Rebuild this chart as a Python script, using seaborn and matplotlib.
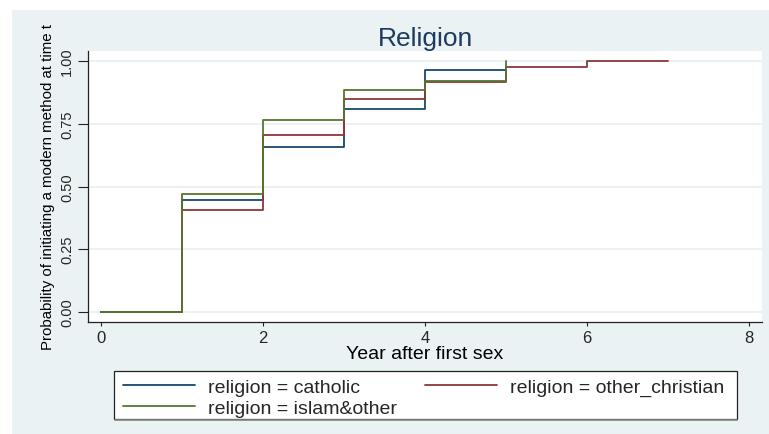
import matplotlib
matplotlib.use("Agg")
import matplotlib.pyplot as plt
from matplotlib.patches import Rectangle
from matplotlib.lines import Line2D
import seaborn as sns
import pandas as pd

# Kaplan-Meier style cumulative probability of initiating a modern method
years_catholic = [0, 1, 2, 3, 4, 5]
prob_catholic = [0.0, 0.447, 0.657, 0.808, 0.965, 0.965]

years_other_christian = [0, 1, 2, 3, 4, 5, 6, 7]
prob_other_christian = [0.0, 0.406, 0.705, 0.849, 0.917, 0.975, 1.0, 1.0]

years_islam_other = [0, 1, 2, 3, 4, 5]
prob_islam_other = [0.0, 0.471, 0.765, 0.884, 0.919, 1.0]

groups = ["catholic", "other_christian", "islam&other"]
colors = {"catholic": "#1a476f", "other_christian": "#90353b", "islam&other": "#55752f"}

x_ticks = [0, 2, 4, 6, 8]
y_ticks = [0.0, 0.25, 0.5, 0.75, 1.0]
y_tick_labels = ["0.00", "0.25", "0.50", "0.75", "1.00"]

frames = []
for g, xs, ys in [("catholic", years_catholic, prob_catholic),
                  ("other_christian", years_other_christian, prob_other_christian),
                  ("islam&other", years_islam_other, prob_islam_other)]:
    frames.append(pd.DataFrame({"year": xs, "prob": ys, "religion": g}))
df = pd.concat(frames, ignore_index=True)

sns.set_theme(style="white")
plt.rcParams["font.family"] = ["Liberation Sans", "DejaVu Sans"]

W, H = 769, 435
fig = plt.figure(figsize=(W / 100, H / 100), dpi=100, facecolor="white")

bg = "#eaf2f3"
fig.patches.append(Rectangle((12 / W, 0), 1 - 12 / W, 1 - 11 / H,
                             transform=fig.transFigure, facecolor=bg,
                             edgecolor="none", zorder=-5))

ax = fig.add_axes([88 / W, (H - 323) / H, 674 / W, 271 / H])
ax.set_zorder(1)
ax.set_facecolor("white")

for y in y_ticks:
    ax.axhline(y, color=bg, lw=1.4, zorder=0.5)

sns.lineplot(data=df, x="year", y="prob", hue="religion", hue_order=groups,
             palette=colors, drawstyle="steps-post", lw=1.3, ax=ax,
             legend=False, estimator=None, sort=True)

ax.set_xlim(-0.16, 8.16)
ax.set_ylim(-0.04, 1.04)
ax.set_xticks(x_ticks)
ax.set_xticklabels([str(t) for t in x_ticks], fontsize=12)
ax.set_yticks(y_ticks)
ax.set_yticklabels(y_tick_labels, fontsize=10.5, rotation=90, va="center")

for s in ["top", "right"]:
    ax.spines[s].set_visible(False)
for s in ["left", "bottom"]:
    ax.spines[s].set_color("#222222")
    ax.spines[s].set_linewidth(0.9)

ax.tick_params(axis="x", direction="out", length=3, width=0.8, color="#222222",
               pad=3, bottom=True)
ax.tick_params(axis="y", direction="out", length=7, width=0.8, color="#222222",
               pad=3, left=True)

ax.set_xlabel("Year after first sex", fontsize=14, labelpad=0, color="black")
ax.set_ylabel("Probability of initiating a modern method at time t",
              fontsize=10.8, labelpad=4, color="black")

fig.text(425 / W, 1 - 39 / H, "Religion", ha="center", va="center",
         fontsize=19, color="#1e3a5f")

# legend box drawn as its own rectangle, entries laid out inside it
fig.patches.append(Rectangle((114 / W, 1 - 420 / H), 623 / W, 48 / H,
                             transform=fig.transFigure, facecolor="white",
                             edgecolor="#222222", lw=0.9, zorder=2))
fig.add_artist(Line2D([115 / W, 737 / W], [1 - 420.5 / H, 1 - 420.5 / H],
                      transform=fig.transFigure, color="#888888", lw=1.2,
                      zorder=2.1))

handles = [Line2D([], [], color=colors[g], lw=1.3) for g in groups]
order = [0, 2, 1]
leg = fig.legend([handles[i] for i in order],
                 ["religion = " + groups[i] for i in order],
                 loc="upper left", ncol=2, mode="expand",
                 bbox_to_anchor=(123 / W, 1 - 421 / H, 601 / W, 42 / H),
                 fontsize=14, frameon=False,
                 handlelength=3.7, handletextpad=0.68, labelspacing=0.18,
                 borderpad=0, borderaxespad=0)
leg.set_zorder(3)

fig.savefig("out.png", dpi=100, facecolor="white")
